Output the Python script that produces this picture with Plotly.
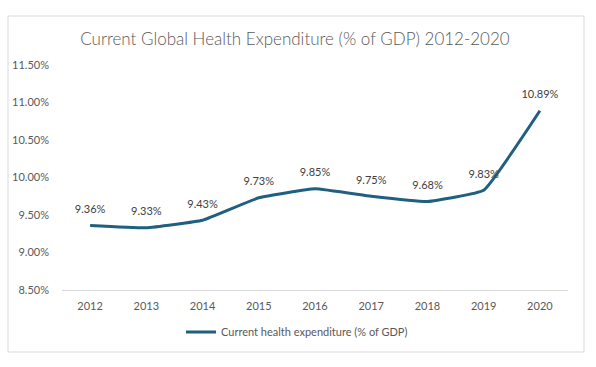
import plotly.graph_objects as go

years = ["2012", "2013", "2014", "2015", "2016", "2017", "2018", "2019", "2020"]
expenditure = [9.36, 9.33, 9.43, 9.73, 9.85, 9.75, 9.68, 9.83, 10.89]
labels = [f"{v:.2f}%" for v in expenditure]
y_ticks = [8.5, 9.0, 9.5, 10.0, 10.5, 11.0, 11.5]
y_tick_text = [f"{v:.2f}%" for v in y_ticks]

FONT = "Lato"
GREY = "#595959"
LINE = "#1F5F7F"

fig = go.Figure()
fig.add_trace(go.Scatter(
    x=years, y=expenditure, mode="lines+markers+text",
    name="Current health expenditure (% of GDP)",
    line=dict(color=LINE, width=3, shape="spline", smoothing=0.3),
    marker=dict(size=14, color="rgba(0,0,0,0)"),
    text=labels, textposition="top center",
    textfont=dict(family=FONT, size=11, color="#404040"),
    cliponaxis=False,
))

W, H = 596, 367
L, R, T, B = 62, 28, 65, 77
pw, ph = W - L - R, H - T - B
def px(x): return (x - L) / pw
def py(y): return (H - B - y) / ph

fig.update_layout(
    width=W, height=H,
    margin=dict(l=L, r=R, t=T, b=B),
    paper_bgcolor="white", plot_bgcolor="white",
    font=dict(family=FONT, color=GREY, size=11),
    title=dict(text="Current Global Health Expenditure (% of GDP) 2012-2020",
               x=295 / W, xanchor="center", y=1 - 39 / H, yanchor="middle",
               font=dict(family=FONT, size=17, color=GREY, weight=300)),
    showlegend=True,
    legend=dict(orientation="h", x=px(297), xanchor="center", y=py(332), yanchor="middle",
                font=dict(family=FONT, size=11, color=GREY), bgcolor="rgba(0,0,0,0)"),
    xaxis=dict(type="category", range=[-0.5, 8.5], showgrid=False, showline=True,
               linecolor="#D9D9D9", linewidth=1, ticks="",
               tickfont=dict(family=FONT, size=11, color=GREY),
               ticklabelstandoff=6, zeroline=False),
    yaxis=dict(range=[8.5, 11.5], tickvals=y_ticks, ticktext=y_tick_text,
               showgrid=False, showline=False, ticks="", zeroline=False,
               tickfont=dict(family=FONT, size=11, color=GREY), ticklabelstandoff=12),
    shapes=[dict(type="rect", xref="paper", yref="paper",
                 x0=px(8), x1=px(584), y0=py(16), y1=py(352),
                 line=dict(color="#D9D9D9", width=1), fillcolor="rgba(0,0,0,0)", layer="below")],
)

fig.write_html("out.html", config={"displayModeBar": False},
               post_script="document.body.style.margin='0';")
